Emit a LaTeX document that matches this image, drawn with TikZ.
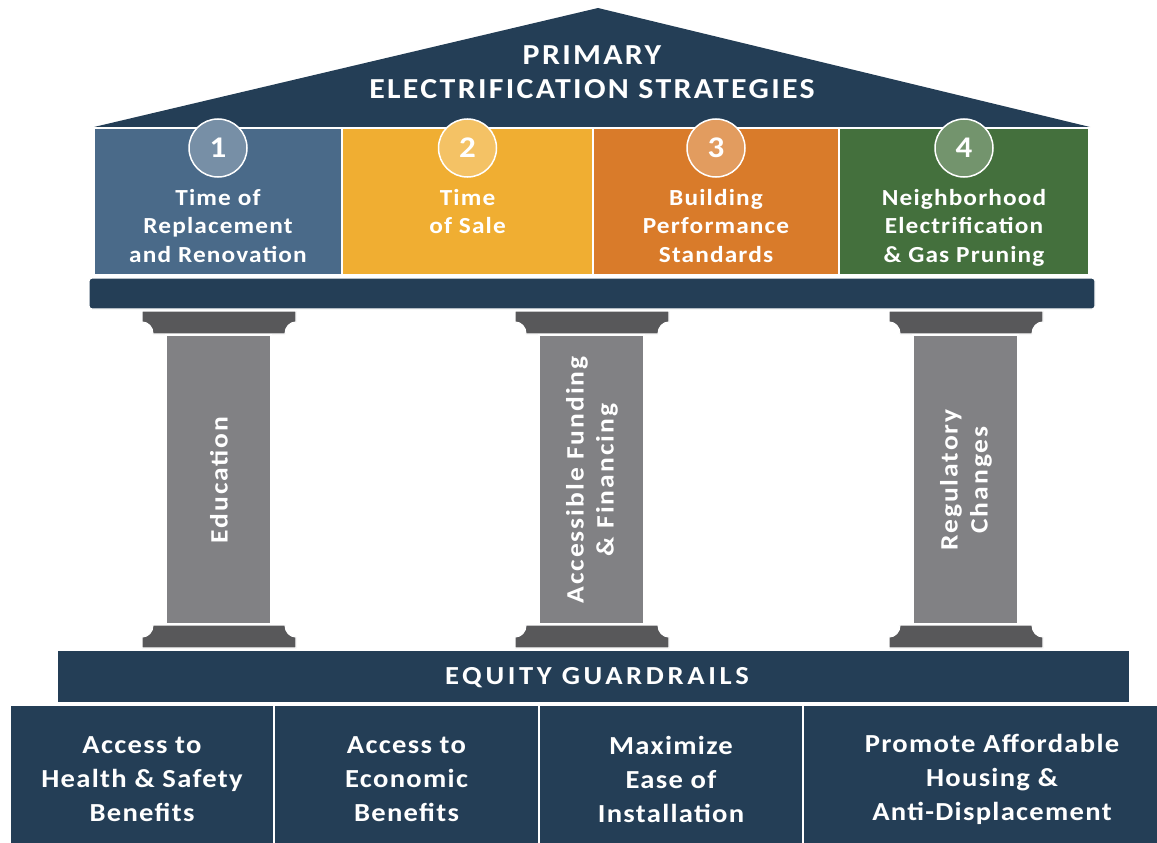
\documentclass[tikz,border=0pt]{standalone}
\usepackage{fontspec}
\setmainfont{Carlito}[FakeStretch=1.1]
\usetikzlibrary{positioning}

\definecolor{navy}{HTML}{243E56}
\definecolor{stratblue}{HTML}{4A6A89}
\definecolor{stratyellow}{HTML}{F0AE32}
\definecolor{stratorange}{HTML}{D97B2A}
\definecolor{stratgreen}{HTML}{44703D}
\definecolor{shaftgray}{HTML}{818184}
\definecolor{capgray}{HTML}{58585A}

\begin{document}
\begin{tikzpicture}[x=1pt, y=-1pt,
    outline/.style={draw=white, line width=1.2pt},
    num/.style={circle, draw=white, line width=1.5pt, minimum size=58pt, inner sep=0pt, text=white, font=\bfseries\fontsize{30}{30}\selectfont},
    stxt/.style={align=center, text=white, inner sep=0pt, font=\bfseries\fontsize{23}{28.5}\selectfont\addfontfeatures{LetterSpace=5}},
    coltxt/.style={align=center, text=white, rotate=90, font=\bfseries\fontsize{25}{30}\selectfont\addfontfeatures{LetterSpace=8}},
    btxt/.style={align=center, text=white, font=\bfseries\fontsize{26}{34}\selectfont\addfontfeatures{LetterSpace=5}},
    head/.style={align=center, text=white, font=\bfseries\fontsize{29}{34}\selectfont\addfontfeatures{LetterSpace=8}}]
    \useasboundingbox (0,0) rectangle (1157,843);

    % Roof
    \fill[navy] (94,127) -- (598,8) -- (1090,127) -- cycle;
    \node[head] (title) at (592,72) {PRIMARY\\ELECTRIFICATION STRATEGIES};

    % Strategies
    \foreach \i/\xa/\xb/\col/\txt in {1/94/342/stratblue/{Time of\\Replacement\\and Renovation},
            2/342/593/stratyellow/{Time\\of Sale},
            3/593/839/stratorange/{Building\\Performance\\Standards},
            4/839/1089/stratgreen/{Neighborhood\\Electrification\\\& Gas Pruning}} {
        \fill[\col, outline] (\xa,128) rectangle (\xb,275);
        \node[num, fill=\col!75!white] (c\i) at ({(\xa+\xb)/2},148) {\i};
        \node[stxt, below=11pt of c\i] (s\i) {\txt};
    }

    % Entablature
    \fill[navy, outline, rounded corners=3pt] (89,278) rectangle (1095,309);

    % Columns
    \foreach \i/\c/\txt in {1/219/{Education}, 2/592/{Accessible Funding\\\& Financing}, 3/966/{Regulatory\\Changes}} {
        \fill[capgray, outline] (\c-77,311) -- (\c+77,311) -- (\c+77,322) .. controls (\c+71,322) and (\c+66,327) .. (\c+66,334)
            -- (\c-66,334) .. controls (\c-66,327) and (\c-71,322) .. (\c-77,322) -- cycle;
        \fill[shaftgray, outline] (\c-53,335) rectangle (\c+52,624);
        \fill[capgray, outline] (\c-66,625) -- (\c+66,625) .. controls (\c+66,632) and (\c+71,637) .. (\c+77,637)
            -- (\c+77,648) -- (\c-77,648) -- (\c-77,637) .. controls (\c-71,637) and (\c-66,632) .. (\c-66,625) -- cycle;
        \node[coltxt] (p\i) at (\c,480) {\txt};
    }

    % Equity guardrails
    \fill[navy, outline] (57,650) rectangle (1130,703);
    \node[head, font=\bfseries\fontsize{26}{30}\selectfont\addfontfeatures{LetterSpace=14}] (guard) at (597,678) {EQUITY GUARDRAILS};

    \foreach \i/\xa/\xb/\txt in {1/10/274/{Access to\\Health \& Safety\\Benefits},
            2/274/539/{Access to\\Economic\\Benefits},
            3/539/803/{Maximize\\Ease of\\Installation},
            4/803/1181/{Promote Affordable\\Housing \&\\Anti-Displacement}} {
        \fill[navy, outline] (\xa,705) rectangle (\xb,860);
        \node[btxt] (g\i) at ({(\xa+\xb)/2},779) {\txt};
    }
\end{tikzpicture}
\end{document}
